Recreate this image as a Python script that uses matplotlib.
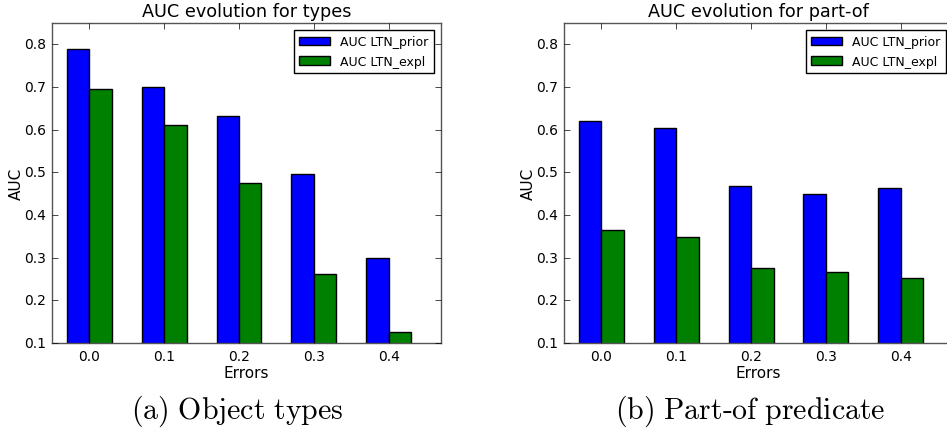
import numpy as np
import matplotlib
matplotlib.use('Agg')
import matplotlib.pyplot as plt

errors = ['0.0', '0.1', '0.2', '0.3', '0.4']
types_prior = [0.79, 0.70, 0.632, 0.496, 0.30]
types_expl = [0.695, 0.612, 0.474, 0.261, 0.125]
partof_prior = [0.621, 0.604, 0.469, 0.450, 0.463]
partof_expl = [0.365, 0.348, 0.275, 0.266, 0.252]

plt.style.use('classic')
plt.rcParams['mathtext.fontset'] = 'cm'

fig = plt.figure(figsize=(9.47, 4.31), dpi=100, facecolor='white')
w = 0.3
idx = np.arange(len(errors))


def panel(rect, prior, expl, title):
    ax = fig.add_axes(rect)
    ax.bar(idx - w, prior, w, color='b', label='AUC LTN_prior', align='edge')
    ax.bar(idx, expl, w, color='g', label='AUC LTN_expl', align='edge')
    ax.set_xlim(-0.5, 4.7)
    ax.set_ylim(0.1, 0.85)
    ax.set_xticks(idx)
    ax.set_xticklabels(errors)
    ax.set_yticks(np.arange(0.1, 0.81, 0.1))
    ax.tick_params(labelsize=10)
    ax.set_xlabel('Errors', fontsize=11, labelpad=2)
    ax.set_ylabel('AUC', fontsize=11, labelpad=0.5)
    ax.set_title(title, fontsize=12.7, y=1.0)
    ax.legend(loc='upper right', fontsize=9, handlelength=2.5,
              borderaxespad=0.6)
    for s in ax.spines.values():
        s.set_edgecolor('#555555')
    return ax


panel([0.0549, 0.2019, 0.4108, 0.7425], types_prior, types_expl,
      'AUC evolution for types')
panel([0.5956, 0.2019, 0.4108, 0.7425], partof_prior, partof_expl,
      'AUC evolution for part-of')

fig.text(0.250, 0.045, r'$\mathrm{(a)\ Object\ types}$', fontsize=21.5,
         ha='center', va='center')
fig.text(0.792, 0.045, r'$\mathrm{(b)\ Part\text{-}of\ predicate}$', fontsize=21.5,
         ha='center', va='center')

fig.savefig('out.png', dpi=100, facecolor='white')
